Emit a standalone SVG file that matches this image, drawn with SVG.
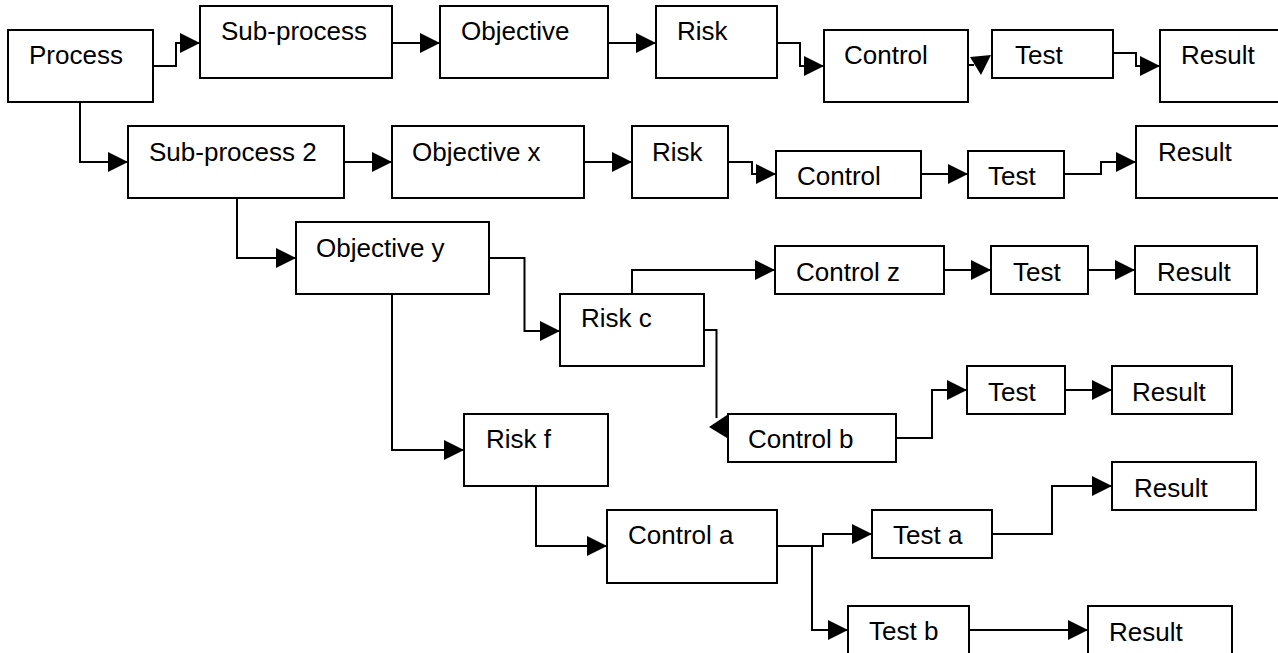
<svg xmlns="http://www.w3.org/2000/svg" width="1278" height="653" viewBox="0 0 1278 653">
<style>
.box{fill:#fff;stroke:#000;stroke-width:2}
.t{font-family:"Liberation Sans",Arial,sans-serif;font-size:26px;fill:#000}
.c{fill:none;stroke:#000;stroke-width:2;marker-end:url(#ah)}
.cn{fill:none;stroke:#000;stroke-width:2}
.h{fill:#000;stroke:none}
</style>
<defs>
<marker id="ah" markerUnits="userSpaceOnUse" markerWidth="20" markerHeight="20" refX="20" refY="10" orient="auto" viewBox="0 0 20 20">
<path d="M0,0 L20,10 L0,20 z" fill="#000"/>
</marker>
</defs>
<rect width="1278" height="653" fill="#fff"/>
<g id="connectors">
<path class="c" d="M153,66 H176 V43 H200"/>
<path class="c" d="M392,43 H440"/>
<path class="c" d="M608,43 H656"/>
<path class="c" d="M777,43 H800 V66 H824"/>
<path class="cn" d="M968,65 H974"/>
<polygon class="h" points="970,57 991,55 981,75"/>
<path class="c" d="M1113,53 H1136 V66 H1160"/>
<path class="c" d="M80,102 V162 H128"/>
<path class="c" d="M344,162 H392"/>
<path class="c" d="M584,162 H632"/>
<path class="c" d="M728,162 H752 V174 H776"/>
<path class="c" d="M921,174 H968"/>
<path class="c" d="M1064,174 H1101 V162 H1136"/>
<path class="c" d="M237,198 V258 H296"/>
<path class="c" d="M489,258 H524.5 V331 H560"/>
<path class="c" d="M392,294 V450 H464"/>
<path class="c" d="M632,294 V270 H775"/>
<path class="c" d="M944,270 H991"/>
<path class="c" d="M1088,270 H1135"/>
<path class="cn" d="M704,330 H716.5 V418"/>
<polygon class="h" points="709,427 727,415 727,438"/>
<path class="c" d="M896,438 H932 V390 H967"/>
<path class="c" d="M1065,390 H1112"/>
<path class="c" d="M536,486 V546 H607"/>
<path class="c" d="M777,546 H823 V534 H872"/>
<path class="c" d="M812,546 V630 H848"/>
<path class="c" d="M992,534 H1052 V486 H1112"/>
<path class="c" d="M969,630 H1088"/>
</g>
<g id="process"><rect class="box" x="8" y="30" width="145" height="72"/><text class="t" x="29" y="64">Process</text></g>
<g id="subprocess"><rect class="box" x="200" y="6" width="192" height="72"/><text class="t" x="221" y="40">Sub-process</text></g>
<g id="objective"><rect class="box" x="440" y="6" width="168" height="72"/><text class="t" x="461" y="40">Objective</text></g>
<g id="risk1"><rect class="box" x="656" y="6" width="121" height="72"/><text class="t" x="677" y="40">Risk</text></g>
<g id="control1"><rect class="box" x="824" y="30" width="144" height="72"/><text class="t" x="844" y="64">Control</text></g>
<g id="test1"><rect class="box" x="992" y="30" width="121" height="48"/><text class="t" x="1015" y="64">Test</text></g>
<g id="result1"><rect class="box" x="1160" y="30" width="130" height="72"/><text class="t" x="1181" y="64">Result</text></g>
<g id="subprocess2"><rect class="box" x="128" y="126" width="216" height="72"/><text class="t" x="149" y="161">Sub-process 2</text></g>
<g id="objectivex"><rect class="box" x="392" y="126" width="192" height="72"/><text class="t" x="412" y="161">Objective x</text></g>
<g id="risk2"><rect class="box" x="632" y="126" width="96" height="72"/><text class="t" x="652" y="161">Risk</text></g>
<g id="control2"><rect class="box" x="776" y="151" width="145" height="47"/><text class="t" x="797" y="185">Control</text></g>
<g id="test2"><rect class="box" x="968" y="151" width="96" height="47"/><text class="t" x="988" y="185">Test</text></g>
<g id="result2"><rect class="box" x="1136" y="126" width="154" height="72"/><text class="t" x="1158" y="161">Result</text></g>
<g id="objectivey"><rect class="box" x="296" y="222" width="193" height="72"/><text class="t" x="316" y="257">Objective y</text></g>
<g id="riskc"><rect class="box" x="560" y="294" width="144" height="72"/><text class="t" x="581" y="327">Risk c</text></g>
<g id="controlz"><rect class="box" x="775" y="246" width="169" height="48"/><text class="t" x="796" y="281">Control z</text></g>
<g id="test3"><rect class="box" x="991" y="246" width="97" height="48"/><text class="t" x="1013" y="281">Test</text></g>
<g id="result3"><rect class="box" x="1135" y="246" width="122" height="48"/><text class="t" x="1157" y="281">Result</text></g>
<g id="riskf"><rect class="box" x="464" y="414" width="144" height="72"/><text class="t" x="486" y="448">Risk f</text></g>
<g id="controlb"><rect class="box" x="728" y="414" width="168" height="48"/><text class="t" x="748" y="448">Control b</text></g>
<g id="test4"><rect class="box" x="967" y="366" width="98" height="48"/><text class="t" x="988" y="401">Test</text></g>
<g id="result4"><rect class="box" x="1112" y="366" width="120" height="48"/><text class="t" x="1132" y="401">Result</text></g>
<g id="controla"><rect class="box" x="607" y="510" width="170" height="73"/><text class="t" x="628" y="544">Control a</text></g>
<g id="testa"><rect class="box" x="872" y="510" width="120" height="48"/><text class="t" x="893" y="544">Test a</text></g>
<g id="result5"><rect class="box" x="1112" y="462" width="144" height="48"/><text class="t" x="1134" y="497">Result</text></g>
<g id="testb"><rect class="box" x="848" y="606" width="121" height="60"/><text class="t" x="869" y="640">Test b</text></g>
<g id="result6"><rect class="box" x="1088" y="606" width="144" height="60"/><text class="t" x="1109" y="641">Result</text></g>
</svg>
